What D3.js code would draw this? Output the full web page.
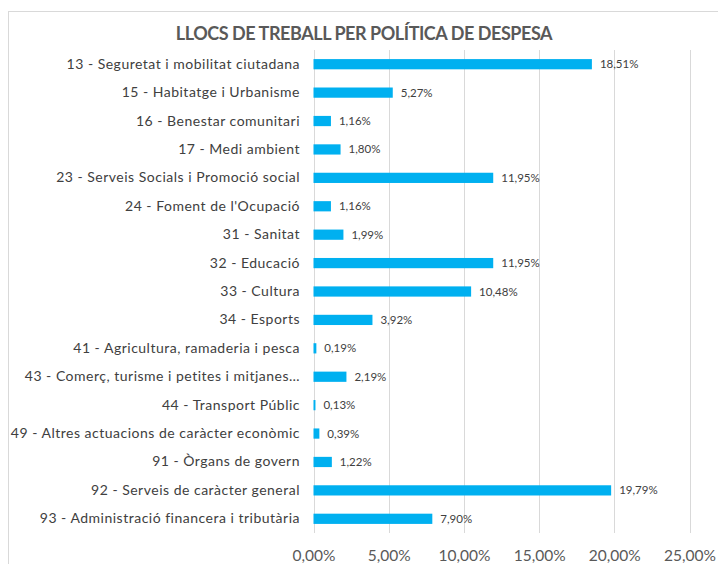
<!DOCTYPE html>
<html><head><meta charset="utf-8">
<script src="https://cdn.jsdelivr.net/npm/d3@7"></script>
<style>body{margin:0;background:#fff}svg{display:block}</style>
</head><body>
<script>
const title = "LLOCS DE TREBALL PER POLÍTICA DE DESPESA";
const categories = [
  "13 - Seguretat i mobilitat ciutadana",
  "15 - Habitatge i Urbanisme",
  "16 - Benestar comunitari",
  "17 - Medi ambient",
  "23 - Serveis Socials i Promoció social",
  "24 - Foment de l'Ocupació",
  "31 - Sanitat",
  "32 - Educació",
  "33 - Cultura",
  "34 - Esports",
  "41 - Agricultura, ramaderia i pesca",
  "43 - Comerç, turisme i petites i mitjanes…",
  "44 - Transport Públic",
  "49 - Altres actuacions de caràcter econòmic",
  "91 - Òrgans de govern",
  "92 - Serveis de caràcter general",
  "93 - Administració financera i tributària"
];
const values = [18.51, 5.27, 1.16, 1.80, 11.95, 1.16, 1.99, 11.95, 10.48, 3.92, 0.19, 2.19, 0.13, 0.39, 1.22, 19.79, 7.90];
const tickValues = [0, 5, 10, 15, 20, 25];

const W = 718, H = 564;
const svg = d3.select("body").append("svg").attr("width", W).attr("height", H);
svg.append("rect").attr("x", 0).attr("y", 0).attr("width", W).attr("height", H).attr("fill", "#fff");
svg.append("rect").attr("x", 8.5).attr("y", 11.5).attr("width", W + 10).attr("height", H + 10)
  .attr("fill", "#fff").attr("stroke", "#d9d9d9").attr("stroke-width", 1);

const FONT = "Lato, 'Open Sans', sans-serif";
const fmt = v => v.toFixed(2).replace(".", ",") + "%";

const x = d3.scaleLinear().domain([0, 25]).range([313.5, 689.5]);
const y = d3.scaleBand().domain(categories).range([50, 533]).paddingInner(0.64).paddingOuter(0.32);

// gridlines
svg.append("g").selectAll("line").data(tickValues).join("line")
  .attr("x1", d => Math.round(x(d)) + 0.5).attr("x2", d => Math.round(x(d)) + 0.5)
  .attr("y1", 50).attr("y2", 533)
  .attr("stroke", "#d9d9d9").attr("stroke-width", 1);

// x axis labels
const xAxis = d3.axisBottom(x).tickValues(tickValues).tickSize(0).tickPadding(0).tickFormat(d => fmt(d));
const gx = svg.append("g").attr("transform", "translate(0,550)").call(xAxis);
gx.select(".domain").remove();
gx.selectAll("text").attr("font-family", FONT).attr("font-size", 15.5).attr("fill", "#595959")
  .attr("dy", "0.71em").attr("y", 0);

// y axis labels
const yAxis = d3.axisLeft(y).tickSize(0).tickPadding(13);
const gy = svg.append("g").attr("transform", "translate(313,0)").call(yAxis);
gy.select(".domain").remove();
gy.selectAll("text").attr("font-family", FONT).attr("font-size", 14)
  .attr("letter-spacing", 0.5).attr("fill", "#404040");

// bars
svg.append("g").selectAll("rect").data(values).join("rect")
  .attr("x", x(0))
  .attr("y", (d, i) => y(categories[i]))
  .attr("width", d => x(d) - x(0))
  .attr("height", y.bandwidth())
  .attr("fill", "#00b0f0");

// value labels
svg.append("g").selectAll("text").data(values).join("text")
  .attr("x", d => x(d) + 8)
  .attr("y", (d, i) => y(categories[i]) + y.bandwidth() / 2)
  .attr("dy", "0.35em")
  .attr("font-family", FONT).attr("font-size", 11.5).attr("fill", "#404040")
  .text(d => fmt(d));

// title
svg.append("text").attr("x", 364).attr("y", 40).attr("text-anchor", "middle")
  .attr("font-family", FONT).attr("font-weight", "bold").attr("font-size", 18)
  .attr("letter-spacing", -0.45)
  .attr("fill", "#595959").text(title);
</script>
</body></html>
